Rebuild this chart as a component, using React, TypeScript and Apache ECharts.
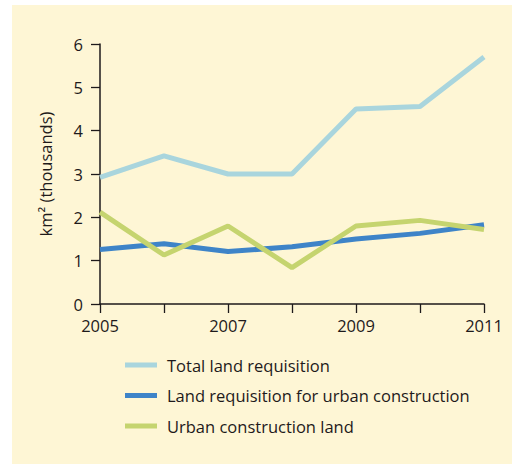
import React, { useEffect, useRef } from "react";
import * as echarts from "echarts";

const years = ["2005", "2006", "2007", "2008", "2009", "2010", "2011"];
const totalLand = [2.92, 3.42, 3.0, 3.0, 4.5, 4.56, 5.7];
const urbanRequisition = [1.26, 1.39, 1.21, 1.32, 1.5, 1.63, 1.83];
const urbanConstruction = [2.12, 1.13, 1.8, 0.84, 1.8, 1.93, 1.72];
const seriesNames = [
  "Total land requisition",
  "Land requisition for urban construction",
  "Urban construction land",
];
const yTicks = [0, 1, 2, 3, 4, 5, 6];

const FONT = "'Open Sans', 'Noto Sans', sans-serif";
const INK = "#1E1A1B";
const COLORS = ["#A9D5DD", "#3E84C8", "#C5D46F"];

export default function App() {
  const ref = useRef<HTMLDivElement>(null);
  useEffect(() => {
    if (!ref.current) return;
    const chart = echarts.init(ref.current, null, { renderer: "svg" });
    const values = [totalLand, urbanRequisition, urbanConstruction];
    chart.setOption({
      animation: false,
      backgroundColor: "#ffffff",
      textStyle: { fontFamily: FONT },
      graphic: [
        {
          type: "rect",
          z: -10,
          shape: { x: 12, y: 5, width: 500, height: 459 },
          style: { fill: "#FEF6D5" },
          silent: true,
        },
      ],
      grid: { left: 100, top: 44, width: 384, height: 260 },
      xAxis: {
        type: "category",
        data: years,
        boundaryGap: false,
        axisLine: { lineStyle: { color: INK, width: 1.5 } },
        axisTick: { interval: 0, length: 9, lineStyle: { color: INK, width: 1.3 } },
        axisLabel: {
          interval: 1,
          margin: 13,
          color: INK,
          fontSize: 16.5,
          fontFamily: FONT,
        },
        splitLine: { show: false },
      },
      yAxis: {
        type: "value",
        min: yTicks[0],
        max: yTicks[yTicks.length - 1],
        interval: 1,
        name: "km² (thousands)",
        nameLocation: "middle",
        nameGap: 46,
        nameRotate: 90,
        nameTextStyle: { color: INK, fontSize: 16.5, fontFamily: FONT },
        axisLine: { show: true, lineStyle: { color: INK, width: 1.5 } },
        axisTick: { show: true, length: 9, lineStyle: { color: INK, width: 1.3 } },
        axisLabel: { margin: 17, color: INK, fontSize: 16.5, fontFamily: FONT },
        splitLine: { show: false },
      },
      legend: {
        orient: "vertical",
        left: 125,
        top: 355,
        padding: 0,
        itemWidth: 32,
        itemHeight: 5,
        itemGap: 10.5,
        icon: "rect",
        data: seriesNames,
        textStyle: {
          color: INK,
          fontSize: 16.5,
          fontFamily: FONT,
          lineHeight: 20,
          padding: [0, 0, 0, 5],
        },
      },
      series: seriesNames.map((name, i) => ({
        name,
        type: "line",
        data: values[i],
        symbol: "none",
        color: COLORS[i],
        lineStyle: { color: COLORS[i], width: 5 },
        itemStyle: { color: COLORS[i] },
        z: 2 + i,
      })),
    });
    return () => chart.dispose();
  }, []);
  return (
    <div
      ref={ref}
      style={{ position: "fixed", left: 0, top: 0, width: 512, height: 464 }}
    />
  );
}
